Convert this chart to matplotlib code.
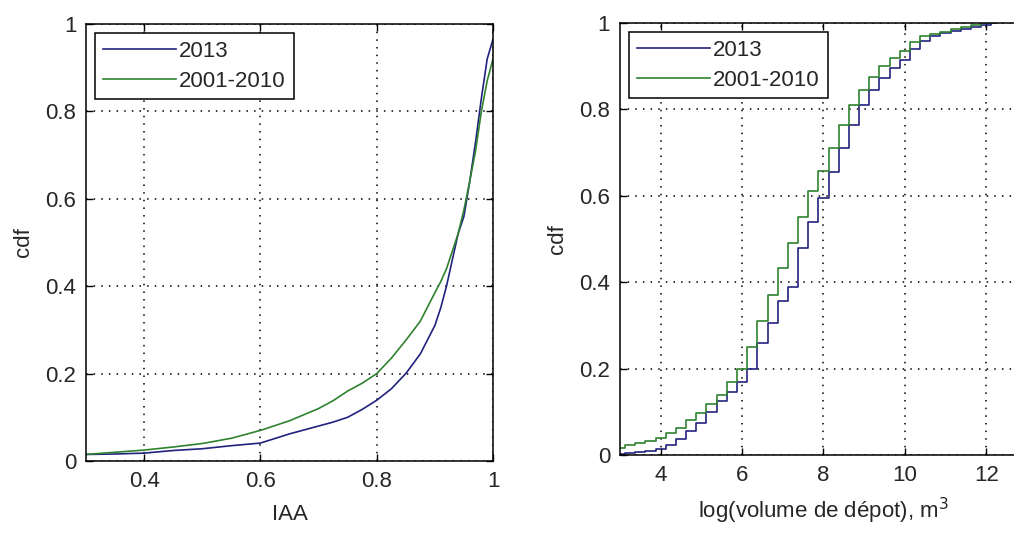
import matplotlib
matplotlib.use("Agg")
import matplotlib.pyplot as plt

plt.rcParams['font.family'] = ['Liberation Sans', 'DejaVu Sans']

# --- left panel: IAA
iaa_x = [0.3, 0.35, 0.4, 0.45, 0.5, 0.55, 0.6, 0.65, 0.7, 0.725, 0.75, 0.775, 0.8,
         0.825, 0.85, 0.875, 0.9, 0.91, 0.92, 0.93, 0.94, 0.95, 0.96, 0.97, 0.98,
         0.99, 1.0]
iaa_2013 = [0.015, 0.016, 0.018, 0.024, 0.028, 0.035, 0.041, 0.062, 0.08, 0.089,
            0.10, 0.118, 0.139, 0.165, 0.2, 0.245, 0.31, 0.35, 0.40, 0.46, 0.52,
            0.56, 0.64, 0.73, 0.83, 0.92, 0.965]
iaa_2001 = [0.015, 0.02, 0.025, 0.032, 0.04, 0.052, 0.07, 0.092, 0.12, 0.138, 0.16,
            0.178, 0.2, 0.235, 0.276, 0.32, 0.385, 0.41, 0.44, 0.48, 0.52, 0.575,
            0.64, 0.71, 0.80, 0.87, 0.92]

# --- right panel: log volume
vol_x = [3, 3.25, 3.5, 3.75, 4, 4.25, 4.5, 4.75, 5, 5.25, 5.5, 5.75, 6, 6.25, 6.5,
         6.75, 7, 7.25, 7.5, 7.75, 8, 8.25, 8.5, 8.75, 9, 9.25, 9.5, 9.75, 10, 10.25,
         10.5, 10.75, 11, 11.25, 11.5, 11.75, 12, 12.25]
vol_2013 = [0.003, 0.005, 0.007, 0.01, 0.013, 0.022, 0.037, 0.055, 0.075, 0.1, 0.125,
            0.145, 0.17, 0.2, 0.26, 0.305, 0.356, 0.39, 0.48, 0.54, 0.595, 0.655, 0.71,
            0.765, 0.81, 0.845, 0.873, 0.895, 0.915, 0.94, 0.958, 0.97, 0.977, 0.982,
            0.986, 0.99, 0.995, 1.0]
vol_2001 = [0.017, 0.022, 0.027, 0.032, 0.04, 0.05, 0.063, 0.08, 0.098, 0.118, 0.14,
            0.17, 0.2, 0.25, 0.31, 0.37, 0.433, 0.49, 0.55, 0.61, 0.657, 0.71, 0.765,
            0.81, 0.846, 0.875, 0.9, 0.92, 0.935, 0.955, 0.97, 0.975, 0.98, 0.985,
            0.99, 0.995, 1.0, 1.0]

y_ticks = [0, 0.2, 0.4, 0.6, 0.8, 1]
y_labels = ['0', '0.2', '0.4', '0.6', '0.8', '1']

blue = '#22227f'
green = '#2f822f'
txt = '#262626'
fs = 16

fig = plt.figure(figsize=(10.14, 5.41), dpi=100)
ax1 = fig.add_axes([0.0848, 0.1479, 0.4014, 0.8078])
ax2 = fig.add_axes([0.6114, 0.159, 0.4014, 0.7985])


def style(ax):
    ax.set_ylim(0, 1)
    ax.set_yticks(y_ticks)
    ax.set_yticklabels(y_labels)
    ax.grid(True, linestyle=(0, (1, 4)), color='black', linewidth=1.1)
    ax.tick_params(direction='in', length=5, width=1, top=True, right=True,
                   labelsize=fs, labelcolor=txt, pad=7)
    for s in ax.spines.values():
        s.set_linewidth(1.1)
    ax.set_ylabel('cdf', fontsize=fs, color=txt, labelpad=8)
    leg = ax.legend(loc='upper left', fontsize=fs, fancybox=False, edgecolor='black',
                    framealpha=1, handlelength=3.3, handletextpad=0.15,
                    borderaxespad=0.4, labelspacing=0.4, borderpad=0.35)
    leg.get_frame().set_linewidth(1.1)
    for t in leg.get_texts():
        t.set_color(txt)


ax1.plot(iaa_x, iaa_2013, color=blue, lw=1.2, label='2013')
ax1.plot(iaa_x, iaa_2001, color=green, lw=1.2, label='2001-2010')
ax1.set_xlim(0.3, 1)
ax1.set_xticks([0.4, 0.6, 0.8, 1])
ax1.set_xticklabels(['0.4', '0.6', '0.8', '1'])
ax1.set_xlabel('IAA', fontsize=fs, color=txt, labelpad=9)
style(ax1)

ax2.plot(vol_x, vol_2013, color=blue, lw=1.2, label='2013', drawstyle='steps-mid')
ax2.plot(vol_x, vol_2001, color=green, lw=1.2, label='2001-2010', drawstyle='steps-mid')
ax2.set_xlim(3, 13)
ax2.set_xticks([4, 6, 8, 10, 12])
ax2.set_xlabel('log(volume de dépot), m$^3$', fontsize=fs, color=txt, labelpad=7)
style(ax2)

fig.savefig('out.png', dpi=100)
